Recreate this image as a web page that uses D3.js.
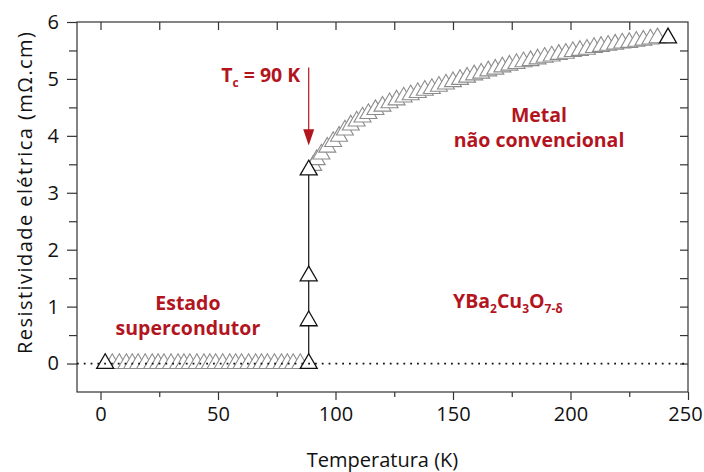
<!DOCTYPE html>
<html>
<head>
<meta charset="utf-8">
<script src="https://cdn.jsdelivr.net/npm/d3@7"></script>
<style>
  body { margin: 0; background: #fff; }
  svg text { font-family: "Open Sans", "Noto Sans", sans-serif; }
</style>
</head>
<body>
<svg id="chart"></svg>
<script>
(function () {
    'use strict';

    const width = 704;
    const height = 472;

    const margin = ({ top: 22, right: 16, bottom: 80, left: 77 });

    // superconducting branch (rho ~ 0), first point drawn black
    const supT = [2, 5, 8, 11, 13.5, 16, 19, 22, 24.5, 27, 30, 33, 35.5, 38, 41, 44, 46.5, 49,
        52, 55, 57.5, 60, 63, 66, 68.5, 71, 74, 77, 79.5, 82, 85];
    const supRho = [0, 0, 0, 0, 0, 0, 0, 0, 0, 0, 0, 0, 0, 0, 0, 0, 0, 0,
        0, 0, 0, 0, 0, 0, 0, 0, 0, 0, 0, 0, 0];

    // transition at Tc
    const trT = [88.6, 88.6, 88.6, 88.6];
    const trRho = [0, 0.75, 1.54, 3.40];

    // normal state (metal nao convencional)
    const metT = [90.5, 92, 94, 96.5, 99, 101.5, 104, 106.5, 109, 111.5, 114, 117, 120, 123, 126,
        129, 132, 135, 138, 141, 144, 147, 150, 153, 156, 159, 162, 165, 168, 171, 174, 177, 180,
        183, 186, 189, 192, 195, 198, 201, 204, 207, 210, 213, 216, 219, 222, 225, 228, 231, 234, 237];
    const metRho = [3.48, 3.58, 3.68, 3.80, 3.90, 3.99, 4.10, 4.19, 4.26, 4.33, 4.39, 4.46, 4.52, 4.58, 4.63,
        4.68, 4.72, 4.76, 4.80, 4.83, 4.87, 4.91, 4.95, 4.99, 5.03, 5.07, 5.10, 5.14, 5.17, 5.21, 5.24, 5.27, 5.30,
        5.32, 5.35, 5.38, 5.40, 5.43, 5.45, 5.48, 5.50, 5.52, 5.55, 5.57, 5.59, 5.61, 5.63, 5.64, 5.66, 5.68, 5.70, 5.72];

    const endT = [241.5];
    const endRho = [5.72];

    const xTicks = [0, 50, 100, 150, 200, 250];
    const xMinor = [25, 75, 125, 175, 225];
    const yTicks = [0, 1, 2, 3, 4, 5, 6];
    const yMinor = [0.5, 1.5, 2.5, 3.5, 4.5, 5.5];

    const x = d3.scaleLinear()
        .domain([-10, 250])
        .range([margin.left, width - margin.right]);

    const y = d3.scaleLinear()
        .domain([-0.5, 6])
        .range([height - margin.bottom, margin.top]);

    const svg = d3.select('#chart')
        .attr('width', width)
        .attr('height', height)
        .attr('viewBox', [0, 0, width, height]);

    const red = '#b3151f';
    const axisColor = '#333';

    // frame
    svg.append('rect')
        .attr('x', x(-10)).attr('y', y(6))
        .attr('width', x(250) - x(-10)).attr('height', y(-0.5) - y(6))
        .attr('fill', 'none').attr('stroke', axisColor).attr('stroke-width', 1.2);

    const styleAxis = g => {
        g.select('.domain').remove();
        g.selectAll('.tick line').attr('stroke', axisColor).attr('stroke-width', 1.2);
        g.selectAll('.tick text').attr('fill', '#111').attr('font-size', 20);
    };

    const bottom = y(-0.5);
    const left = x(-10);

    svg.append('g')
        .attr('transform', `translate(0,${bottom})`)
        .call(d3.axisBottom(x).tickValues(xTicks).tickSize(8).tickPadding(7).tickFormat(d3.format('d')))
        .call(styleAxis)
        .call(g => g.selectAll('.tick text').filter(d => d === 250).attr('dx', -3));
    svg.append('g')
        .attr('transform', `translate(0,${bottom})`)
        .call(d3.axisBottom(x).tickValues(xMinor).tickSize(5).tickFormat(''))
        .call(styleAxis);
    svg.append('g')
        .attr('transform', `translate(0,${y(6)})`)
        .call(d3.axisBottom(x).tickValues(xTicks.concat(xMinor).filter(d => d < 250)).tickSize(8).tickFormat(''))
        .call(styleAxis);

    svg.append('g')
        .attr('transform', `translate(${left},0)`)
        .call(d3.axisLeft(y).tickValues(yTicks).tickSize(10).tickPadding(8).tickFormat(d3.format('d')))
        .call(styleAxis);
    svg.append('g')
        .attr('transform', `translate(${left},0)`)
        .call(d3.axisLeft(y).tickValues(yMinor).tickSize(8).tickFormat(''))
        .call(styleAxis);
    svg.append('g')
        .attr('transform', `translate(${x(250)},0)`)
        .call(d3.axisLeft(y).tickValues(yTicks.concat(yMinor).filter(d => d < 6)).tickSize(8).tickFormat(''))
        .call(styleAxis);

    // axis titles
    svg.append('text')
        .attr('x', (x(-10) + x(250)) / 2).attr('y', 467)
        .attr('text-anchor', 'middle').attr('font-size', 20).attr('fill', '#111')
        .text('Temperatura (K)');
    svg.append('text')
        .attr('transform', `translate(32,${(y(-0.5) + y(6)) / 2 - 14}) rotate(-90)`)
        .attr('text-anchor', 'middle').attr('font-size', 20).attr('fill', '#111')
        .attr('textLength', 322).attr('lengthAdjust', 'spacing')
        .text('Resistividade elétrica (mΩ.cm)');

    // transition line
    const line = d3.line().x(d => x(d[0])).y(d => y(d[1]));
    svg.append('path')
        .attr('d', line(d3.zip(trT, trRho)))
        .attr('fill', 'none').attr('stroke', '#111').attr('stroke-width', 1.2);

    const tri = d3.symbol().type(d3.symbolTriangle).size(125);

    const drawMarkers = (ts, rs, stroke, sw) => svg.append('g')
        .selectAll('path')
        .data(d3.zip(ts, rs))
        .join('path')
        .attr('transform', d => `translate(${x(d[0])},${y(d[1])})`)
        .attr('d', tri)
        .attr('fill', '#fff')
        .attr('stroke', stroke)
        .attr('stroke-width', sw);

    drawMarkers(supT.slice(1), supRho.slice(1), '#8c8c8c', 1.1);
    drawMarkers(metT, metRho, '#8c8c8c', 1.1);
    drawMarkers(supT.slice(0, 1), supRho.slice(0, 1), '#111', 1.3);
    drawMarkers(trT, trRho, '#111', 1.3);
    drawMarkers(endT, endRho, '#111', 1.3);

    // dotted zero line
    svg.append('line')
        .attr('x1', x(-10)).attr('x2', x(250))
        .attr('y1', y(0)).attr('y2', y(0))
        .attr('stroke', '#111').attr('stroke-width', 1.8)
        .attr('stroke-dasharray', '1.8,5');

    // Tc arrow
    svg.append('line')
        .attr('x1', x(88.6)).attr('x2', x(88.6))
        .attr('y1', y(5.2)).attr('y2', y(4.1))
        .attr('stroke', red).attr('stroke-width', 1.2);
    svg.append('path')
        .attr('d', `M${x(88.6) - 5.5},${y(4.1) - 1}L${x(88.6) + 5.5},${y(4.1) - 1}L${x(88.6)},${y(3.83)}Z`)
        .attr('fill', red);

    const label = (tx, ty, anchor) => svg.append('text')
        .attr('x', tx).attr('y', ty)
        .attr('text-anchor', anchor)
        .attr('font-size', 19.5).attr('font-weight', 'bold').attr('fill', red);

    const tc = label(x(85), y(4.95), 'end');
    tc.append('tspan').text('T');
    tc.append('tspan').attr('font-size', 12).attr('dy', 5).text('c');
    tc.append('tspan').attr('dy', -5).text(' = 90 K');

    const metal = label(x(186.6), y(4.25), 'middle');
    metal.append('tspan').attr('x', x(186.6)).text('Metal');
    metal.append('tspan').attr('x', x(186.6)).attr('dy', y(3.81) - y(4.25)).text('não convencional');

    const est = label(x(37.2), y(0.94), 'middle');
    est.append('tspan').attr('x', x(37.2)).text('Estado');
    est.append('tspan').attr('x', x(37.2)).attr('dy', y(0.5) - y(0.94)).text('supercondutor');

    const f = label(x(150), y(0.98), 'start');
    f.append('tspan').text('YBa');
    f.append('tspan').attr('font-size', 12).attr('dy', 5).text('2');
    f.append('tspan').attr('dy', -5).text('Cu');
    f.append('tspan').attr('font-size', 12).attr('dy', 5).text('3');
    f.append('tspan').attr('dy', -5).text('O');
    f.append('tspan').attr('font-size', 12).attr('dy', 5).text('7-δ');
})();
</script>
</body>
</html>
